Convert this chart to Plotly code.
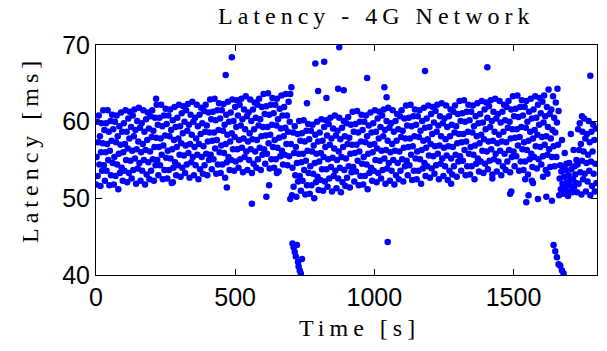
import plotly.graph_objects as go

# Sampling grid of the latency trace (one sample every 2 s)
sample_step_s = 2

# Latency samples [ms], one row per 16 s (8 samples)
latency_ms = [
    51.8, 55.4, 60.0, 52.9, 57.3, 60.8, 54.4, 58.1,
    51.6, 56.0, 59.8, 53.6, 57.2, 61.5, 54.3, 58.9,
    52.3, 56.0, 59.8, 53.6, 57.1, 61.5, 55.0, 58.7,
    51.7, 56.2, 60.1, 53.0, 57.5, 60.9, 54.6, 59.0,
    51.8, 55.4, 60.0, 52.9, 57.3, 60.8, 54.4, 58.1,
    51.2, 55.8, 59.4, 53.3, 57.0, 61.2, 54.0, 58.7,
    52.3, 56.0, 59.8, 53.6, 57.1, 61.5, 55.0, 58.7,
    52.1, 56.5, 60.4, 53.3, 57.8, 61.3, 54.9, 59.3,
    52.6, 56.2, 60.8, 53.7, 58.1, 61.6, 55.2, 58.9,
    51.9, 56.4, 60.1, 53.9, 57.4, 61.8, 54.6, 59.2,
    52.3, 56.0, 59.8, 53.6, 57.1, 61.5, 55.0, 58.7,
    51.8, 56.3, 60.3, 53.1, 57.6, 61.2, 54.7, 59.1,
    52.5, 56.1, 60.7, 53.6, 58.0, 61.5, 55.1, 58.8,
    52.3, 56.7, 60.5, 54.3, 57.9, 62.2, 55.0, 59.6,
    53.0, 56.7, 60.5, 54.3, 57.8, 62.2, 55.7, 59.4,
    52.5, 56.9, 60.8, 53.7, 58.2, 61.7, 55.3, 59.7,
    52.6, 56.2, 60.8, 53.7, 58.1, 61.6, 55.2, 58.9,
    52.0, 56.4, 60.2, 54.0, 57.6, 61.9, 54.7, 59.3,
    53.0, 56.7, 60.5, 54.3, 57.8, 62.2, 55.7, 59.4,
    52.8, 57.2, 61.1, 54.0, 58.5, 62.0, 55.6, 60.0,
    53.3, 56.9, 61.5, 54.4, 58.8, 62.3, 55.9, 59.6,
    52.7, 57.1, 60.9, 54.7, 58.3, 62.6, 55.4, 60.0,
    53.0, 56.7, 60.5, 54.3, 57.8, 62.2, 55.7, 59.4,
    52.5, 57.1, 60.9, 53.8, 58.4, 61.8, 55.4, 59.8,
    53.2, 56.8, 61.4, 54.3, 58.7, 62.2, 55.8, 59.5,
    53.0, 57.4, 61.2, 55.0, 58.6, 62.9, 55.7, 60.3,
    53.8, 57.5, 61.3, 55.1, 58.6, 63.0, 56.5, 60.2,
    53.2, 57.6, 61.5, 54.4, 58.9, 62.4, 56.0, 60.4,
    53.3, 56.9, 61.5, 54.4, 58.8, 62.3, 55.9, 59.6,
    52.7, 57.1, 60.9, 54.7, 58.3, 62.6, 55.4, 60.0,
    53.7, 57.4, 61.2, 55.0, 58.5, 62.9, 56.4, 60.1,
    53.6, 58.0, 61.9, 54.8, 59.3, 62.8, 56.4, 60.8,
    54.0, 57.6, 62.2, 55.1, 59.5, 63.0, 56.6, 60.3,
    53.4, 57.8, 61.6, 55.4, 59.0, 63.3, 56.1, 60.7,
    53.7, 57.4, 61.2, 55.0, 58.5, 62.9, 56.4, 60.1,
    53.3, 57.7, 61.6, 54.5, 59.0, 62.5, 56.1, 60.5,
    54.0, 57.6, 62.2, 55.1, 59.5, 63.0, 56.6, 60.3,
    53.7, 58.1, 61.9, 55.7, 59.3, 63.6, 56.4, 61.0,
    54.5, 58.2, 62.0, 55.8, 59.3, 63.7, 57.2, 60.9,
    53.9, 58.3, 62.2, 55.1, 59.6, 63.1, 56.7, 61.1,
    54.0, 57.6, 62.2, 55.1, 59.5, 63.0, 56.6, 60.3,
    53.5, 57.9, 61.7, 55.5, 59.1, 63.4, 56.2, 60.8,
    54.4, 58.1, 61.9, 55.7, 59.2, 63.6, 57.1, 60.8,
    54.3, 58.7, 62.6, 55.5, 60.0, 63.6, 57.1, 64.5,
    50.4, 54.0, 58.6, 51.5, 55.9, 59.4, 53.0, 56.7,
    50.2, 54.6, 58.4, 52.2, 55.8, 60.1, 52.9, 57.5,
    51.0, 54.7, 58.5, 52.3, 55.8, 60.2, 53.7, 57.4,
    50.5, 54.9, 58.8, 51.7, 56.2, 59.7, 53.3, 57.7,
    50.6, 54.2, 58.8, 51.7, 56.1, 59.6, 53.2, 56.9,
    50.0, 54.6, 58.3, 52.1, 55.8, 60.0, 52.8, 57.4,
    51.1, 54.8, 58.6, 52.4, 55.9, 60.3, 53.8, 57.5,
    51.0, 55.4, 59.3, 52.2, 56.7, 60.2, 53.8, 58.2,
    51.5, 55.1, 59.7, 52.6, 57.0, 60.5, 54.1, 57.8,
    50.9, 55.3, 59.1, 52.9, 56.5, 60.8, 53.6, 58.2,
    51.3, 55.0, 58.8, 52.6, 56.1, 60.5, 54.0, 57.7,
    50.8, 55.4, 59.2, 52.1, 56.7, 60.1, 53.7, 58.1,
    51.6, 55.2, 59.8, 52.7, 57.1, 60.6, 54.2, 57.9,
    51.4, 55.8, 59.6, 53.4, 57.0, 61.3, 54.1, 58.7,
    52.2, 55.9, 59.7, 53.5, 57.0, 61.4, 54.9, 58.6,
    51.7, 56.1, 60.0, 52.9, 57.4, 60.9, 54.5, 58.9,
    51.8, 55.4, 60.0, 52.9, 57.3, 60.8, 54.4, 58.1,
    51.2, 55.8, 59.5, 53.3, 57.0, 61.2, 54.0, 58.6,
    52.3, 56.0, 59.8, 53.6, 57.1, 61.5, 55.0, 58.7,
    52.1, 56.5, 60.4, 53.3, 57.8, 61.3, 54.9, 59.3,
    52.6, 56.2, 60.8, 53.7, 58.1, 61.6, 55.2, 58.9,
    51.9, 56.3, 60.1, 53.9, 57.5, 61.8, 54.6, 59.2,
    52.3, 56.0, 59.8, 53.6, 57.1, 61.5, 55.0, 58.7,
    51.8, 56.2, 60.1, 53.0, 57.5, 61.0, 54.6, 59.0,
    52.5, 56.1, 60.7, 53.6, 58.0, 61.5, 55.1, 58.8,
    52.2, 56.6, 60.4, 54.2, 57.8, 62.1, 54.9, 59.5,
    53.0, 56.7, 60.5, 54.3, 57.8, 62.2, 55.7, 59.4,
    52.4, 56.8, 60.7, 53.6, 58.1, 61.6, 55.2, 59.6,
    52.5, 56.1, 60.7, 53.6, 58.0, 61.5, 55.1, 58.8,
    51.9, 56.3, 60.1, 53.9, 57.5, 61.8, 54.6, 59.2,
    52.9, 56.6, 60.4, 54.2, 57.7, 62.1, 55.6, 59.3,
    52.7, 57.1, 61.0, 53.9, 58.4, 61.9, 55.5, 59.9,
    53.2, 56.8, 61.4, 54.3, 58.7, 62.2, 55.8, 59.5,
    52.5, 56.9, 60.7, 54.5, 58.1, 62.4, 55.2, 59.8,
    52.9, 56.6, 60.4, 54.2, 57.7, 62.1, 55.6, 59.3,
    52.4, 56.8, 60.7, 53.6, 58.1, 61.6, 55.2, 59.6,
    53.1, 56.7, 61.3, 54.2, 58.6, 62.1, 55.7, 59.4,
    52.8, 57.2, 61.0, 54.8, 58.4, 62.7, 55.5, 60.1,
    53.6, 57.3, 61.1, 54.9, 58.4, 62.8, 56.3, 60.0,
    53.0, 57.4, 61.3, 54.2, 58.7, 62.2, 55.8, 60.2,
    53.1, 56.7, 61.3, 54.2, 58.6, 62.1, 55.7, 59.4,
    52.5, 56.9, 60.7, 54.5, 58.1, 62.4, 55.2, 59.8,
    53.5, 57.2, 61.0, 54.8, 58.3, 62.7, 56.2, 59.9,
    53.3, 57.7, 61.6, 54.5, 59.0, 62.5, 56.1, 60.5,
    53.8, 57.4, 62.0, 54.9, 59.3, 62.8, 56.4, 60.1,
    53.1, 57.5, 61.3, 55.1, 58.7, 63.0, 55.8, 60.4,
    53.5, 57.2, 61.0, 54.8, 58.3, 62.7, 56.2, 59.9,
    53.0, 57.4, 61.3, 54.2, 58.7, 62.2, 55.8, 60.2,
    53.7, 57.3, 61.9, 54.8, 59.2, 62.7, 56.3, 60.0,
    53.4, 57.8, 61.6, 55.4, 59.0, 63.3, 56.1, 60.7,
    54.2, 57.9, 61.7, 55.5, 59.0, 63.4, 56.9, 60.6,
    53.6, 58.0, 61.9, 54.8, 59.3, 62.8, 56.4, 60.8,
    53.7, 57.3, 61.9, 54.8, 59.2, 62.7, 56.3, 60.0,
    53.1, 57.5, 61.3, 55.1, 58.7, 63.0, 55.8, 60.4,
    54.1, 57.8, 61.6, 55.4, 58.9, 63.3, 56.8, 60.5,
    53.9, 58.3, 62.2, 55.1, 59.6, 63.1, 56.7, 61.1,
    54.4, 58.0, 62.6, 55.5, 59.9, 63.4, 57.0, 60.7,
    53.7, 58.1, 61.9, 55.7, 59.3, 64.2, 56.4, 61.0,
    54.1, 57.8, 61.6, 55.4, 58.9, 63.3, 56.8, 60.5,
    54.2, 58.6, 62.5, 55.4, 59.9, 64.3, 57.0, 61.4,
    50.4, 52.6, 54.3, 51.2, 53.5, 57.6, 51.9, 54.0,
    50.6, 52.8, 55.9, 51.4, 53.7, 54.5, 52.1, 50.9,
    50.3, 53.0, 54.6, 51.7, 52.4, 58.4, 53.8, 51.0,
    50.8, 52.5, 56.3, 51.5, 54.2, 53.1, 52.0, 55.0,
    50.8, 54.4, 59.0, 51.9, 56.3, 59.8, 53.4, 57.1,
    50.5, 54.9, 58.7, 52.5, 56.1, 60.4, 53.2, 57.8,
    50.9, 54.6, 58.4, 52.2, 55.7, 60.1, 53.6, 57.3,
    50.4, 54.8, 58.7, 51.6, 56.1, 59.6, 53.2, 57.6,
    50.9, 54.5, 59.1, 52.0,
]

# Isolated outliers and the two low-latency bursts (time [s], latency [ms])
outlier_time_s = [
    216, 276, 466, 470, 488, 560, 612, 622, 650, 698,
    706, 710, 714, 718, 722, 726, 728, 732, 736, 740,
    758, 788, 798, 820, 828, 870, 874, 890, 974, 1036, 1044, 1048,
    1182, 1276, 1406, 1424, 1488, 1492, 1542, 1546, 1554, 1566, 1570,
    1588, 1606, 1618, 1622, 1638,
    1644, 1650, 1656, 1662, 1668, 1674, 1680,
    1746, 1776,
]
outlier_ms = [
    63.0, 52.1, 66.1, 51.4, 68.4, 49.3, 50.2, 51.7, 53.3, 49.9,
    44.1, 43.6, 43.0, 42.4, 43.9, 41.7, 41.1, 40.6, 40.2, 42.1,
    62.4, 67.6, 64.0, 67.8, 63.1, 64.3, 69.7, 64.1, 65.7, 64.5, 63.2, 44.3,
    66.6, 51.9, 67.1, 52.6, 50.6, 50.9, 52.5, 49.5, 50.4, 52.3, 52.0,
    49.9, 52.8, 50.2, 53.2, 49.7,
    43.9, 43.1, 42.3, 41.4, 41.2, 40.6, 40.2,
    60.7, 66.0,
]

x_ticks = [0, 500, 1000, 1500]
y_ticks = [40, 50, 60, 70]

title_text = "Latency - 4G Network"
x_title = "Time [s]"
y_title = "Latency [ms]"

time_s = [i * sample_step_s for i in range(len(latency_ms))]
all_t = time_s + outlier_time_s
all_ms = latency_ms + outlier_ms

fig = go.Figure(
    go.Scatter(
        x=all_t, y=all_ms, mode="markers",
        marker=dict(color="#0000ff", size=6.5, line=dict(width=0)),
        showlegend=False, hoverinfo="x+y",
    )
)

serif = "Liberation Serif, DejaVu Serif, serif"
sans = "Liberation Sans, Arial, sans-serif"

# plot area in pixels (left, right, top, bottom)
PL, PR, PT, PB = 96, 597, 45, 275


def px_x(px):
    return (px - PL) / (PR - PL)


def px_y(py):
    return (PB - py) / (PB - PT)


def spaced(s):
    return '<span style="letter-spacing:5px">' + s + "</span>"


label_font = dict(family=serif, size=24, color="black")

fig.update_layout(
    width=607, height=351,
    margin=dict(l=PL, r=607 - PR, t=PT, b=351 - PB),
    paper_bgcolor="white", plot_bgcolor="white",
    xaxis=dict(
        range=[0, 1800], tickvals=x_ticks, ticktext=[str(v) for v in x_ticks],
        ticks="inside", ticklen=6, tickcolor="black",
        showline=True, linecolor="black", linewidth=1, mirror="ticks",
        showgrid=False, zeroline=False,
        tickfont=dict(family=sans, size=25, color="black"),
    ),
    yaxis=dict(
        range=[40, 70], tickvals=y_ticks, ticktext=[str(v) for v in y_ticks],
        ticks="inside", ticklen=6, tickcolor="black",
        showline=True, linecolor="black", linewidth=1, mirror="ticks",
        showgrid=False, zeroline=False,
        tickfont=dict(family=sans, size=25, color="black"),
    ),
    annotations=[
        dict(text=spaced(title_text), xref="paper", yref="paper",
             x=px_x(376), y=px_y(16), xanchor="center", yanchor="middle",
             showarrow=False, font=label_font),
        dict(text=spaced(x_title), xref="paper", yref="paper",
             x=px_x(359), y=px_y(328), xanchor="center", yanchor="middle",
             showarrow=False, font=label_font),
        dict(text=spaced(y_title), xref="paper", yref="paper",
             x=px_x(30), y=px_y(150), xanchor="center", yanchor="middle",
             textangle=-90, showarrow=False, font=label_font),
    ],
)

fig.write_html("out.html")
